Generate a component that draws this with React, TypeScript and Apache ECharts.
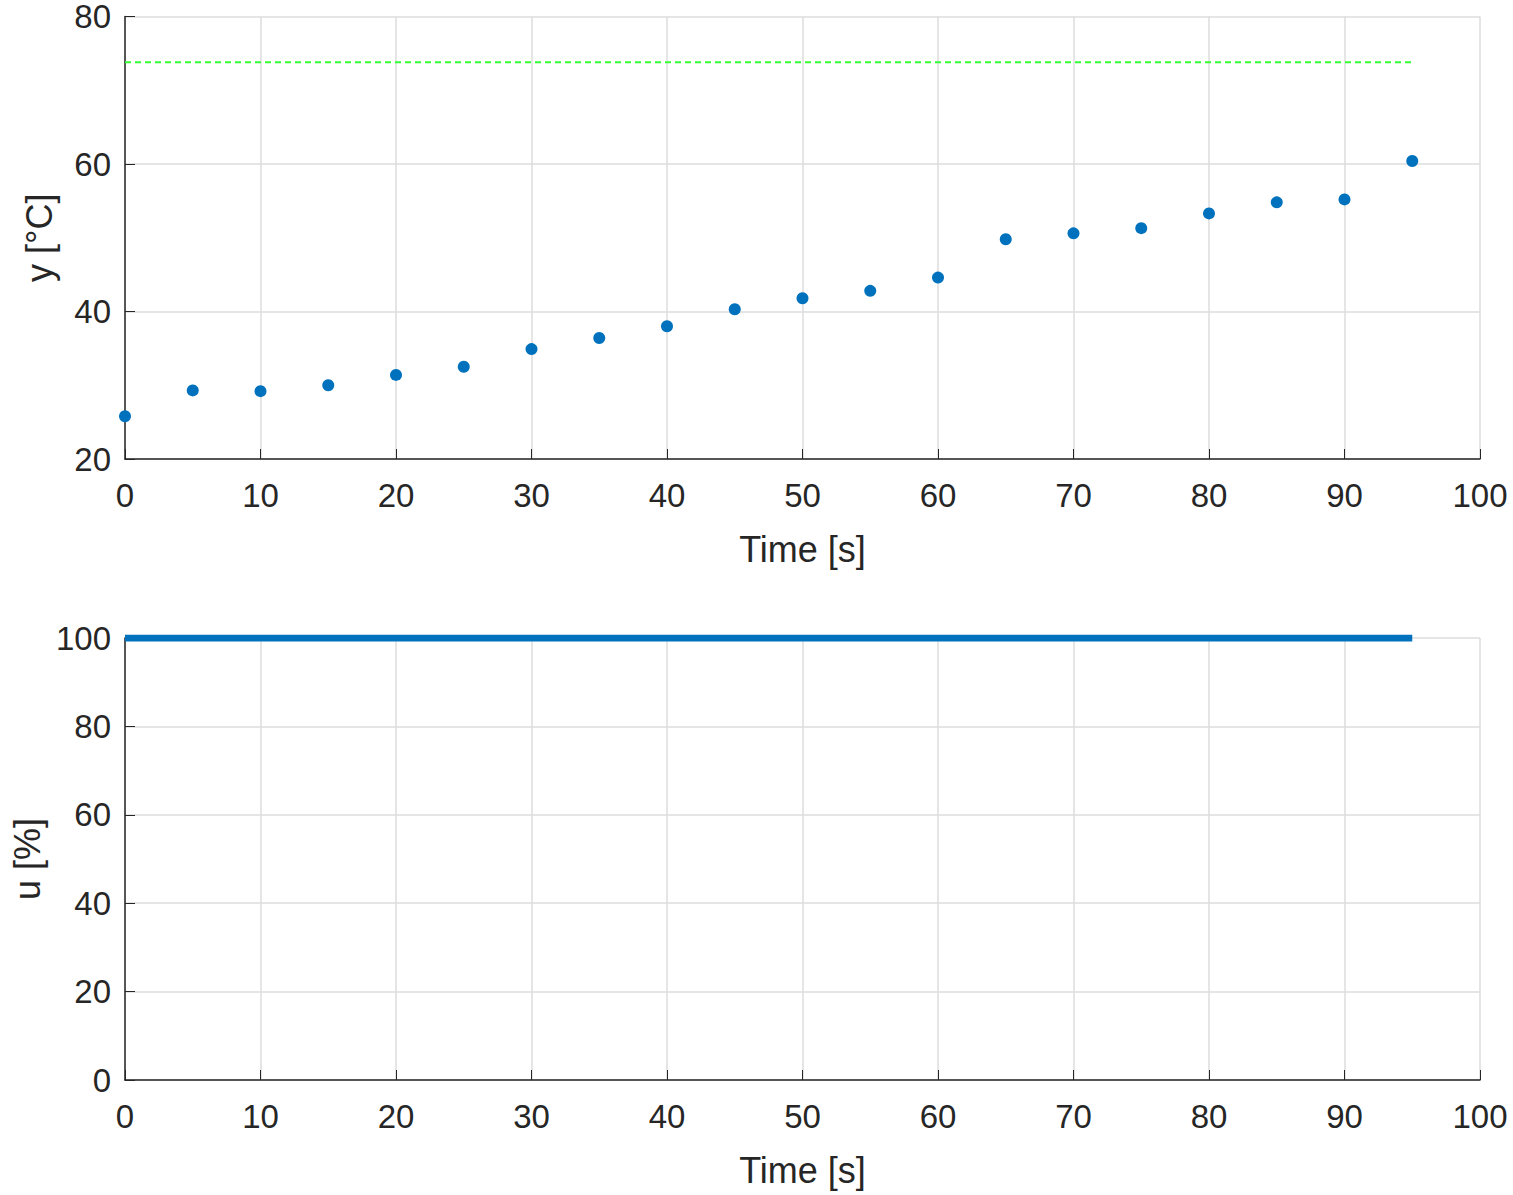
import { useEffect, useRef } from "react";
import * as echarts from "echarts";

const TIME = [0, 5, 10, 15, 20, 25, 30, 35, 40, 45, 50, 55, 60, 65, 70, 75, 80, 85, 90, 95];
const TEMP = [25.8, 29.3, 29.2, 30.0, 31.4, 32.5, 34.9, 36.4, 38.0, 40.3, 41.8, 42.8, 44.6, 49.8, 50.6, 51.3, 53.3, 54.8, 55.2, 60.4];
const SETPOINT = 73.8;
const HEATER = TIME.map(() => 100);

const FONT = "Liberation Sans";
const TXT = "#262626";

export default function App() {
  const ref = useRef<HTMLDivElement>(null);

  useEffect(() => {
    if (!ref.current) return;
    const chart = echarts.init(ref.current, undefined, { renderer: "svg" });
    const xAxis = (gridIndex: number) => ({
      gridIndex, type: "value", min: 0, max: 100, interval: 10,
      name: "Time [s]", nameLocation: "middle", nameGap: 72,
      nameTextStyle: { fontSize: 36, color: TXT, fontFamily: FONT },
      axisLine: { lineStyle: { color: TXT, width: 1.5 } },
      axisTick: { inside: true, length: 10, lineStyle: { color: TXT } },
      axisLabel: { fontSize: 33, color: TXT, fontFamily: FONT, margin: 20 },
      splitLine: { show: true, lineStyle: { color: "#dcdcdc", width: 1.5 } },
    });
    const yAxis = (gridIndex: number, min: number, max: number, interval: number, name: string) => ({
      gridIndex, type: "value", min, max, interval,
      name, nameLocation: "middle", nameGap: 68,
      nameTextStyle: { fontSize: 36, color: TXT, fontFamily: FONT },
      axisLine: { show: true, lineStyle: { color: TXT, width: 1.5 } },
      axisTick: { show: true, inside: true, length: 10, lineStyle: { color: TXT } },
      axisLabel: { fontSize: 33, color: TXT, fontFamily: FONT, margin: 14 },
      splitLine: { show: true, lineStyle: { color: "#dcdcdc", width: 1.5 } },
    });
    chart.setOption({
      animation: false,
      backgroundColor: "#ffffff",
      grid: [
        { left: 125, width: 1355, top: 16, height: 443 },
        { left: 125, width: 1355, top: 638, height: 442 },
      ],
      xAxis: [xAxis(0), xAxis(1)],
      yAxis: [yAxis(0, 20, 80, 20, "y [°C]"), yAxis(1, 0, 100, 20, "u [%]")],
      series: [
        {
          type: "line", xAxisIndex: 0, yAxisIndex: 0,
          data: [[0, SETPOINT], [95, SETPOINT]], showSymbol: false,
          lineStyle: { color: "#33ff33", width: 2, type: [6, 4] },
        },
        {
          type: "scatter", xAxisIndex: 0, yAxisIndex: 0,
          data: TIME.map((t, i) => [t, TEMP[i]]), symbolSize: 12,
          itemStyle: { color: "#0072bd", opacity: 1 },
        },
        {
          type: "line", xAxisIndex: 1, yAxisIndex: 1,
          data: TIME.map((t, i) => [t, HEATER[i]]), showSymbol: false,
          lineStyle: { color: "#0072bd", width: 7 },
        },
      ],
    });
    return () => chart.dispose();
  }, []);

  return <div ref={ref} style={{ position: "absolute", left: 0, top: 0, width: 1513, height: 1195 }} />;
}
